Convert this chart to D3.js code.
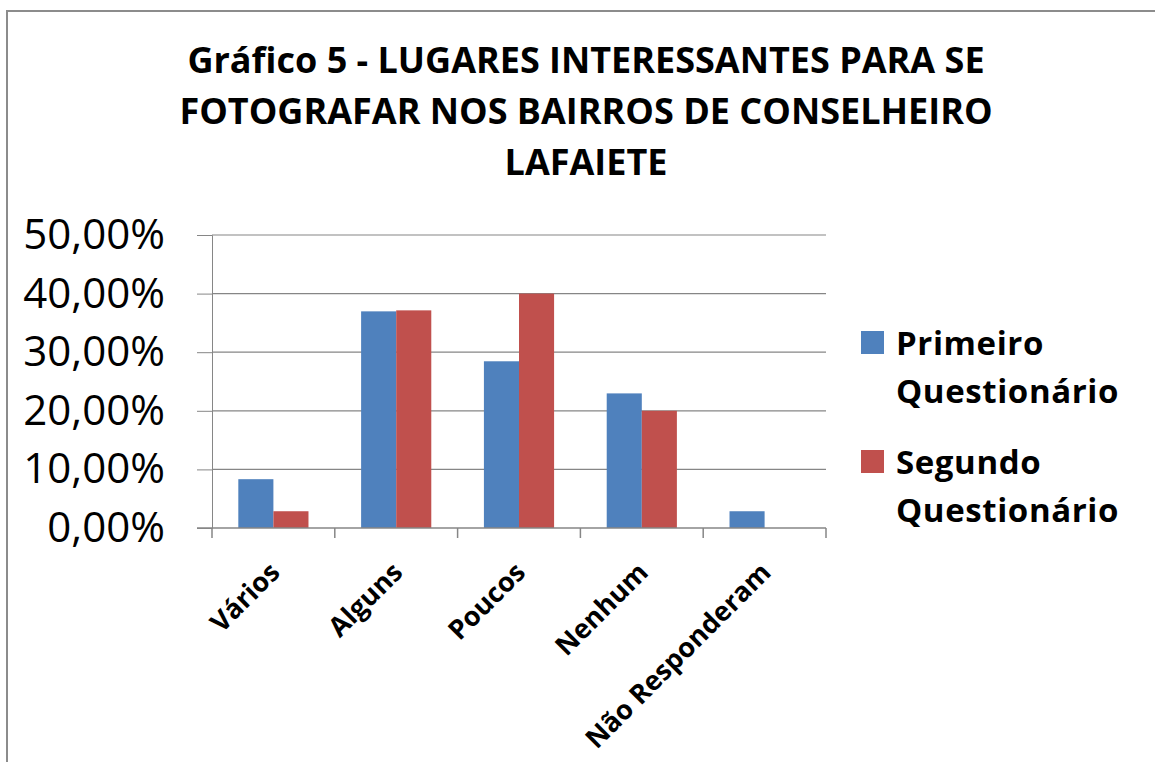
<!DOCTYPE html>
<html>
<head>
<meta charset="utf-8">
<title>Gráfico 5</title>
<script src="https://d3js.org/d3.v7.min.js"></script>
<style>
  body { margin: 0; background: #fff; }
  svg text { font-family: "Open Sans", "DejaVu Sans", sans-serif; fill: #000; }
</style>
</head>
<body>
<script>
// data
var categories = ["Vários", "Alguns", "Poucos", "Nenhum", "Não Responderam"];
var seriesNames = ["Primeiro Questionário", "Segundo Questionário"];
var primeiro = [8.33, 36.97, 28.45, 22.97, 2.86];
var segundo = [2.86, 37.14, 40.00, 20.00, 0];
var yTicks = [0, 10, 20, 30, 40, 50];
var titleLines = ["Gráfico 5 - LUGARES INTERESSANTES PARA SE",
                  "FOTOGRAFAR NOS BAIRROS DE CONSELHEIRO",
                  "LAFAIETE"];

var width = 1155, height = 762;
var colors = ["#4F81BD", "#C0504D"];
var plot = {left: 212, right: 826, top: 235, bottom: 528};

var svg = d3.select("body").append("svg")
    .attr("width", width)
    .attr("height", height);

// chart frame
svg.append("rect")
    .attr("x", 7).attr("y", 11)
    .attr("width", width + 20).attr("height", height + 20)
    .attr("fill", "#fff")
    .attr("stroke", "#8c8c8c")
    .attr("stroke-width", 2);

// title
svg.append("g").selectAll("text")
    .data(titleLines)
  .enter().append("text")
    .attr("x", 586)
    .attr("y", function(d, i) { return 73 + i * 51; })
    .attr("text-anchor", "middle")
    .style("font-size", "36px")
    .style("font-weight", "bold")
    .text(function(d) { return d; });

var x = d3.scaleBand()
    .domain(categories)
    .range([plot.left, plot.right])
    .padding(0);

var xSub = d3.scaleBand()
    .domain(seriesNames)
    .range([0, x.bandwidth()])
    .paddingInner(0)
    .paddingOuter(0.75);

var y = d3.scaleLinear()
    .domain([0, 50])
    .range([plot.bottom, plot.top]);

// gridlines + y ticks
var yAxis = svg.append("g")
    .attr("transform", "translate(" + plot.left + ",0)")
    .call(d3.axisLeft(y).tickValues(yTicks)
      .tickSize(15)
      .tickPadding(32)
      .tickFormat(function(d) { return d3.format(".2f")(d).replace(".", ",") + "%"; }));
yAxis.select(".domain").attr("stroke", "#868686");
yAxis.selectAll(".tick line").attr("stroke", "#868686");
yAxis.selectAll(".tick text")
    .style("font-size", "42px")
    .attr("fill", "#000");

svg.append("g").selectAll("line")
    .data(yTicks.filter(function(d) { return d > 0; }))
  .enter().append("line")
    .attr("x1", plot.left).attr("x2", plot.right)
    .attr("y1", function(d) { return y(d); })
    .attr("y2", function(d) { return y(d); })
    .attr("stroke", "#868686")
    .attr("stroke-width", 1.2);

// bars
var groups = svg.append("g").selectAll("g")
    .data(categories)
  .enter().append("g")
    .attr("transform", function(d) { return "translate(" + x(d) + ",0)"; });

groups.selectAll("rect")
    .data(function(d, i) {
      return [{s: seriesNames[0], v: primeiro[i], c: 0}, {s: seriesNames[1], v: segundo[i], c: 1}];
    })
  .enter().append("rect")
    .attr("x", function(d) { return xSub(d.s); })
    .attr("width", xSub.bandwidth())
    .attr("y", function(d) { return y(d.v); })
    .attr("height", function(d) { return y(0) - y(d.v); })
    .attr("fill", function(d) { return colors[d.c]; });

// x axis
var xAxisG = svg.append("g")
    .attr("transform", "translate(0," + plot.bottom + ")");
xAxisG.append("line")
    .attr("x1", 197).attr("x2", plot.right)
    .attr("stroke", "#868686").attr("stroke-width", 1.5);
xAxisG.selectAll(".xtick")
    .data(categories.concat(["end"]))
  .enter().append("line")
    .attr("x1", function(d, i) { return i < categories.length ? x(d) : plot.right; })
    .attr("x2", function(d, i) { return i < categories.length ? x(d) : plot.right; })
    .attr("y1", 0).attr("y2", 10)
    .attr("stroke", "#868686").attr("stroke-width", 1.5);

xAxisG.selectAll(".xlabel")
    .data(categories)
  .enter().append("text")
    .attr("transform", function(d) {
      return "translate(" + (x(d) + x.bandwidth() / 2 + 8) + ",46) rotate(-45)";
    })
    .attr("text-anchor", "end")
    .style("font-size", "27px")
    .style("font-weight", "bold")
    .text(function(d) { return d; });

// legend
var legendLines = [["Primeiro", "Questionário"], ["Segundo", "Questionário"]];
var legend = svg.append("g").selectAll("g")
    .data(seriesNames)
  .enter().append("g")
    .attr("transform", function(d, i) { return "translate(861," + (331 + i * 119) + ")"; });
legend.append("rect")
    .attr("width", 23).attr("height", 23)
    .attr("fill", function(d, i) { return colors[i]; });
legend.selectAll("text")
    .data(function(d, i) { return legendLines[i]; })
  .enter().append("text")
    .attr("x", 35)
    .attr("y", function(d, j) { return 24 + j * 48; })
    .style("font-size", "33px")
    .style("font-weight", "bold")
    .style("letter-spacing", "0.6px")
    .text(function(d) { return d; });
</script>
</body>
</html>
